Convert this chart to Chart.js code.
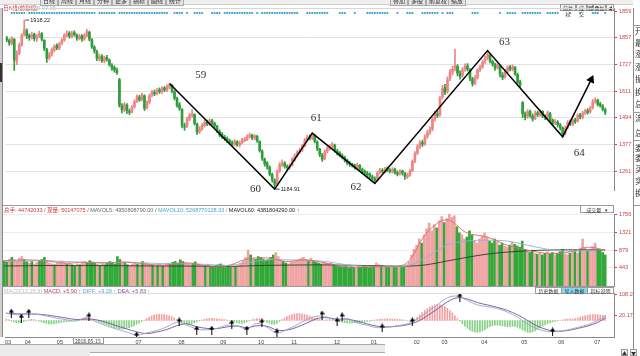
<!DOCTYPE html>
<html><head><meta charset="utf-8">
<script src="https://cdn.jsdelivr.net/npm/chart.js@4.4.1/dist/chart.umd.min.js"></script>
<style>
html,body{margin:0;padding:0;background:#fff;width:640px;height:356px;overflow:hidden;font-family:"Noto Sans CJK SC","Noto Sans",sans-serif;}
canvas{position:absolute;left:0;}
.a{position:absolute;white-space:nowrap;}
.t{position:absolute;white-space:nowrap;font-size:5.5px;line-height:6px;font-family:"Liberation Sans","Noto Sans CJK SC",sans-serif;}
.btn{position:absolute;border:1px solid #9a9a9a;background:#f2f2f2;font-size:5px;line-height:5px;text-align:center;color:#333;box-sizing:border-box;}
.tab{display:inline-block;border-right:1px solid #aaa;padding:0 2.5px;font-size:5.5px;line-height:7px;height:7px;color:#333;}
</style></head><body>
<canvas id="cp" width="640" height="197" style="top:2px"></canvas>
<canvas id="cv" width="640" height="87" style="top:205px"></canvas>
<canvas id="cm" width="640" height="59" style="top:286px"></canvas>
<div id="ov"></div>
<script>
// ---------------- DATA ----------------
const N = 240;
const opens = [1840,1830,1815,1835,1740,1775,1812,1855,1872,1852,1840,1856,1836,1848,1858,1830,1790,1755,1770,1788,1806,1796,1818,1832,1850,1862,1846,1864,1852,1838,1850,1835,1850,1865,1832,1800,1782,1750,1762,1740,1756,1745,1722,1712,1700,1660,1545,1528,1550,1522,1520,1542,1566,1584,1574,1590,1538,1562,1592,1606,1600,1616,1606,1624,1614,1628,1635,1608,1578,1550,1530,1460,1458,1488,1506,1508,1468,1435,1446,1460,1476,1466,1482,1470,1458,1436,1422,1410,1404,1396,1386,1378,1390,1376,1386,1396,1400,1414,1418,1406,1414,1392,1350,1315,1298,1280,1248,1222,1208,1265,1290,1298,1282,1280,1290,1312,1332,1346,1355,1374,1400,1412,1406,1415,1390,1358,1332,1318,1350,1360,1372,1375,1350,1342,1330,1322,1308,1296,1290,1286,1278,1288,1270,1262,1254,1250,1238,1230,1224,1256,1266,1260,1274,1266,1260,1272,1256,1252,1264,1252,1238,1246,1265,1306,1342,1370,1388,1382,1414,1432,1445,1490,1512,1508,1585,1625,1608,1665,1692,1708,1718,1686,1678,1704,1720,1702,1662,1645,1670,1702,1714,1738,1755,1765,1738,1726,1712,1718,1680,1672,1698,1714,1704,1712,1682,1650,1560,1510,1500,1522,1502,1492,1516,1506,1522,1500,1496,1512,1484,1472,1476,1464,1450,1428,1452,1476,1466,1484,1480,1506,1496,1516,1526,1520,1538,1566,1570,1554,1546,1530];
const closes = [1832,1818,1840,1745,1772,1810,1852,1878,1850,1842,1855,1838,1846,1860,1835,1795,1752,1768,1790,1805,1798,1815,1830,1852,1860,1848,1862,1855,1840,1848,1836,1852,1868,1835,1802,1785,1752,1760,1742,1755,1748,1725,1710,1702,1690,1548,1530,1552,1525,1518,1540,1565,1585,1572,1595,1535,1560,1590,1605,1598,1615,1608,1622,1615,1630,1638,1610,1580,1548,1535,1462,1455,1490,1505,1512,1470,1432,1445,1462,1475,1468,1480,1472,1460,1438,1420,1412,1405,1395,1388,1380,1392,1378,1385,1398,1402,1412,1420,1408,1416,1395,1352,1318,1295,1282,1250,1225,1205,1262,1292,1300,1285,1278,1288,1315,1330,1345,1352,1372,1398,1410,1405,1418,1392,1360,1335,1315,1348,1362,1370,1378,1352,1340,1332,1325,1310,1298,1292,1288,1280,1290,1272,1260,1255,1248,1240,1232,1222,1255,1268,1262,1272,1268,1262,1270,1258,1250,1262,1255,1240,1245,1262,1305,1340,1368,1385,1380,1412,1430,1442,1488,1510,1505,1580,1620,1605,1660,1690,1705,1720,1688,1675,1702,1718,1705,1665,1642,1668,1700,1712,1735,1752,1770,1740,1728,1710,1722,1682,1670,1695,1712,1705,1715,1685,1648,1635,1512,1498,1520,1505,1490,1515,1508,1520,1502,1495,1515,1485,1470,1478,1465,1452,1425,1450,1475,1468,1482,1478,1505,1498,1515,1525,1518,1535,1565,1572,1552,1548,1532,1518];
const highs = [1848,1836,1846,1838,1785,1818,1860,1918,1880,1858,1866,1862,1855,1870,1864,1834,1796,1778,1798,1812,1815,1822,1838,1860,1872,1868,1870,1872,1858,1856,1855,1860,1878,1870,1838,1808,1788,1770,1768,1762,1765,1750,1730,1720,1710,1665,1556,1560,1556,1532,1548,1572,1594,1592,1602,1594,1568,1598,1614,1615,1622,1624,1630,1630,1638,1643,1640,1612,1584,1560,1534,1472,1498,1514,1530,1512,1472,1456,1470,1484,1485,1490,1488,1476,1462,1442,1430,1418,1412,1402,1395,1400,1396,1394,1406,1410,1420,1428,1424,1422,1418,1395,1355,1320,1305,1286,1255,1230,1268,1300,1312,1305,1290,1296,1322,1338,1352,1362,1380,1405,1418,1420,1428,1420,1395,1362,1340,1355,1370,1378,1388,1380,1358,1348,1338,1328,1315,1305,1298,1294,1298,1292,1276,1268,1262,1256,1246,1238,1262,1275,1274,1280,1282,1274,1278,1276,1264,1270,1268,1258,1255,1272,1312,1348,1378,1395,1398,1420,1440,1455,1495,1522,1525,1588,1635,1640,1672,1705,1718,1792,1725,1698,1712,1728,1730,1708,1670,1678,1708,1722,1745,1762,1786,1772,1745,1732,1732,1722,1690,1705,1720,1722,1724,1718,1688,1658,1565,1520,1530,1528,1510,1525,1524,1530,1526,1508,1524,1518,1490,1488,1482,1470,1455,1458,1482,1484,1490,1492,1512,1514,1522,1532,1534,1544,1574,1582,1576,1562,1552,1536];
const lows = [1825,1808,1810,1700,1725,1768,1805,1848,1838,1830,1835,1828,1826,1842,1828,1785,1735,1745,1762,1780,1790,1790,1810,1826,1845,1840,1840,1848,1830,1832,1826,1830,1845,1828,1795,1775,1742,1740,1735,1732,1740,1718,1700,1692,1682,1540,1515,1520,1512,1508,1514,1536,1560,1565,1568,1525,1532,1555,1585,1590,1594,1600,1600,1608,1608,1620,1602,1572,1540,1526,1450,1440,1452,1482,1496,1462,1422,1426,1440,1455,1460,1460,1465,1452,1430,1412,1404,1396,1386,1378,1372,1372,1370,1368,1380,1390,1395,1406,1400,1398,1388,1345,1310,1285,1272,1242,1215,1185,1202,1258,1282,1276,1268,1272,1285,1306,1325,1338,1348,1368,1392,1398,1400,1385,1352,1326,1305,1312,1342,1354,1364,1345,1332,1325,1316,1302,1290,1284,1280,1272,1272,1265,1252,1248,1240,1232,1224,1210,1218,1250,1255,1254,1260,1255,1254,1250,1242,1246,1246,1227,1230,1240,1260,1300,1335,1362,1370,1375,1405,1422,1438,1480,1495,1500,1575,1595,1600,1655,1680,1698,1676,1662,1670,1695,1698,1655,1632,1638,1662,1695,1708,1730,1745,1732,1718,1700,1705,1672,1660,1665,1690,1698,1698,1678,1640,1625,1495,1485,1492,1496,1480,1486,1500,1500,1495,1486,1490,1478,1460,1465,1455,1442,1412,1420,1446,1460,1460,1470,1475,1490,1490,1508,1510,1514,1532,1558,1545,1540,1524,1508];
const volumes = [620,580,650,700,640,600,680,720,650,590,560,600,540,580,620,650,700,610,560,540,520,560,590,610,570,540,560,520,500,540,520,560,600,580,620,590,560,530,510,540,520,560,600,580,540,720,650,580,560,520,500,540,560,530,520,600,560,540,520,500,480,510,530,500,520,560,540,580,600,560,640,600,560,540,520,560,590,540,510,490,500,520,480,470,500,520,540,510,480,470,460,490,480,500,560,620,700,880,760,680,650,720,700,660,620,640,700,760,820,720,640,600,560,540,580,600,620,640,680,700,650,620,680,620,580,560,540,580,560,540,560,520,500,480,470,460,480,450,470,460,450,470,460,480,470,450,460,500,560,520,500,480,470,460,480,470,460,450,470,480,520,600,760,900,1000,1150,1050,1250,1400,1540,1350,1500,1420,1600,1700,1550,1650,1760,1680,1720,1450,1300,1250,1150,1200,1350,1250,1100,1050,1150,1220,1300,1200,1100,1050,1150,1080,1000,1050,980,950,1000,1080,1020,980,950,1100,900,860,820,880,800,780,820,760,800,840,780,820,760,800,840,900,780,760,800,820,860,800,880,1150,920,860,900,960,1050,900,880,820,760];
const maIdx = [0,8,16,24,32,40,48,56,64,72,80,88,96,104,112,120,128,136,144,152,160,168,176,184,192,200,208,216,224,232,239];
const mavol5 = [620,640,620,560,580,560,590,540,510,570,500,480,650,690,600,640,560,470,465,480,560,1300,1620,1300,1200,1000,880,800,820,950,880];
const mavol10 = [600,610,620,600,580,575,575,565,545,545,530,505,560,640,640,630,600,520,480,470,490,700,1000,1100,1120,1100,1000,900,850,870,890];
const mavol60 = [490,495,500,500,500,498,495,492,490,488,485,480,490,505,510,515,515,510,500,490,485,520,610,700,780,830,860,880,885,885,880];
const macdIdx = [0,4,8,12,16,20,24,28,32,36,40,44,48,52,56,60,64,68,72,76,80,84,88,92,96,100,104,108,112,116,120,124,128,132,136,140,144,148,152,156,160,164,168,172,176,180,184,188,192,196,200,204,208,212,216,220,224,228,232,236,239];
const dif = [31,24,28,26,19,10,3,-2,12,-6,-22,-36,-48,-61,-52,-42,-27,-8,-19,-36,-39,-33,-20,-22,-36,-12,-28,-52,-38,-18,4,18,14,0,8,-10,-20,-30,-28,-22,-14,5,36,66,95,102,84,65,58,50,35,14,-15,-36,-46,-46,-39,-29,-18,0,20];
const dea = [30,28,27,27,23,17,10,4,6,3,-8,-22,-35,-47,-55,-48,-38,-22,-14,-26,-33,-34,-27,-23,-30,-22,-24,-40,-40,-28,-10,8,12,5,6,-3,-14,-24,-27,-24,-18,-5,20,48,78,95,90,75,65,55,42,24,0,-24,-39,-45,-42,-33,-23,-8,10];
const macdBar = [6,3,-3,-6,-9,-10,-8,-5,-2,3,5,4,1,-3,-6,-9,-12,-14,-15,-14,-12,-10,-8,-6,-5,-4,-3,-2,-1,2,5,8,10,9,6,3,-2,-6,-10,-14,-18,-22,-26,-30,-33,-35,-36,-35,-33,-30,-26,-22,-16,-10,-4,2,8,14,19,23,25,26,26,25,23,20,16,10,4,-3,-8,-12,-15,-16,-14,-10,-6,-2,2,5,7,8,9,8,7,6,5,4,2,0,-3,-6,-9,-11,-12,-10,-6,-2,3,6,8,7,3,-3,-8,-12,-15,-16,-12,-4,4,10,16,21,25,28,29,29,28,26,23,19,15,10,6,4,3,2,3,4,3,1,-2,-4,-7,-9,-10,-11,-11,-10,-9,-8,-6,-5,-4,-3,-1,2,4,5,6,6,7,7,6,6,5,4,3,2,0,-3,-4,5,14,24,33,42,50,56,61,65,67,66,63,58,51,42,32,20,8,-4,-14,-24,-33,-40,-45,-48,-50,-48,-44,-38,-32,-26,-22,-20,-20,-21,-23,-25,-26,-25,-24,-25,-28,-33,-40,-45,-49,-50,-48,-44,-38,-31,-24,-18,-13,-9,-6,-4,-2,0,3,5,6,7,6,8,11,14,17,20,22,24,25,25,24,23,22,21];
const crossIdx = [2,6,9,33,52,69,76,82,90,96,102,108,126,132,134,150,162,181,218];
const crossVal = [31,10,31,15,-65,-6,-40,-40,-15,-40,-10,-52,23,-6,15,-31,-6,98,-48];
const zzIdx = [65,107,122,147,192,222,233.4];
const zzVal = [1643,1185,1428,1210,1786,1412,1660];
const waveText = ['59','60','61','62','63','64'];
const waveIdx = [77.5,99.3,123.6,139.5,198.8,228.6];
const waveVal = [1681,1186,1492,1194,1824,1341];
const hiIdx = 7, hiVal = 1918.22, loIdx = 107, loVal = 1184.91;
const eventRuns = [[2,7],[9,21],[22,28],[29,35],[37,37],[38,43],[45,64],[67,70],[72,72],[75,78],[82,85],[87,98],[100,100],[102,116],[120,128],[133,135],[139,139],[144,152],[156,156],[160,162],[166,172],[174,174],[176,178],[186,188],[197,197],[200,203],[206,213],[216,220],[225,225],[229,229],[234,236],[239,239]];
const monthIdx = [0.7,8.6,21.4,36.5,52.8,69.9,86.6,101.7,114.9,132,146.7,163.8,174.9,190.8,206.7,221.5,235.8];
const monthLabels = ['03','04','05','06','07','08','09','10','11','12','01','02','03','04','05','06','07'];
const priceTicks = [1261,1377.5,1494,1610.5,1727,1843.5,1953.7];
const priceTickLabels = ['1261','1377','1494','1611','1727','1857','1859'];
const volTicks = [443,879,1321,1756];
const volTickLabels = ['443','879','1321','1756'];
const macdTicks = [20.17,108.2];
const macdTickLabels = ['20.17','108.2'];

// ---------------- STYLE / CHARTS ----------------
Chart.defaults.animation = false;
Chart.defaults.font.family = '"Liberation Sans", Arial, sans-serif';
const UP = '#ec8686', DOWN = '#2f9d3c', VUP = '#f1a3a3', VDOWN = '#33a83a', RED = '#d04040';
const idx = Array.from({length: N}, (_, i) => i);
const isUp = i => closes[i] >= opens[i];
const XMIN = -0.5, XMAX = 242.5;
const xHidden = {type: 'linear', min: XMIN, max: XMAX, display: false, offset: false};
function rightAxis(ticksArr, labelsArr, min, max, gridColor) {
  return {
    position: 'right', min, max,
    afterBuildTicks: s => { s.ticks = ticksArr.map(v => ({value: v})); },
    afterFit: s => { s.width = 26; },
    ticks: {font: {size: 5.5}, color: RED, padding: 2, autoSkip: false,
      callback: (v, i) => labelsArr[i]},
    grid: {color: gridColor, tickColor: RED, tickLength: 3, lineWidth: 1},
    border: {display: true, color: '#8a8a8a'}
  };
}
const basePlugins = {legend: {display: false}, tooltip: {enabled: false}};

const priceAnno = {
  id: 'priceAnno',
  afterDatasetsDraw(chart) {
    const {ctx, scales: {x, y}} = chart;
    ctx.save();
    ctx.fillStyle = '#2f9ccc';
    eventRuns.forEach(([a, b]) => { for (let i = a; i <= b; i++) {
      ctx.beginPath(); ctx.arc(x.getPixelForValue(i), 11, 1.1, 0, Math.PI * 2); ctx.fill(); } });
    ctx.font = '11px "Liberation Serif", serif';
    ctx.fillStyle = '#333'; ctx.textAlign = 'center'; ctx.textBaseline = 'middle';
    waveText.forEach((t, k) => ctx.fillText(t, x.getPixelForValue(waveIdx[k]), y.getPixelForValue(waveVal[k])));
    ctx.font = '5.5px "Liberation Sans", sans-serif'; ctx.textAlign = 'left'; ctx.fillStyle = '#222';
    ctx.strokeStyle = '#222'; ctx.lineWidth = 0.8;
    [[hiIdx, hiVal], [loIdx, loVal]].forEach(([i, v]) => {
      const px = x.getPixelForValue(i), py = y.getPixelForValue(v);
      ctx.beginPath(); ctx.moveTo(px + 1, py); ctx.lineTo(px + 5, py); ctx.stroke();
      ctx.fillText(v.toFixed(2), px + 6, py);
    });
    ctx.restore();
  }
};

new Chart(document.getElementById('cp'), {
  type: 'bar',
  data: {datasets: [
    {type: 'line', data: zzIdx.map((v, k) => ({x: v, y: zzVal[k]})), borderColor: '#000', borderWidth: 1.5,
     pointRadius: c => c.dataIndex === zzIdx.length - 1 ? 3.5 : 0, pointStyle: 'triangle', pointRotation: 25,
     pointBackgroundColor: '#000', pointBorderColor: '#000', clip: false},
    {data: idx.map(i => ({x: i, y: [opens[i], closes[i]]})), backgroundColor: c => isUp(c.dataIndex) ? UP : DOWN,
     barThickness: 2, grouped: false, minBarLength: 1},
    {data: idx.map(i => ({x: i, y: [lows[i], highs[i]]})), backgroundColor: c => isUp(c.dataIndex) ? UP : DOWN,
     barThickness: 1, grouped: false}
  ]},
  options: {responsive: false, devicePixelRatio: 1,
    layout: {padding: {left: 3, right: 0, top: 6, bottom: 9}},
    plugins: basePlugins,
    scales: {x: xHidden, y: rightAxis(priceTicks, priceTickLabels, 1181.3, 1970.5,
      c => c.tick && c.tick.value > 1900 ? 'rgba(0,0,0,0)' : '#e3e3e3')}},
  plugins: [priceAnno]
});

new Chart(document.getElementById('cv'), {
  type: 'bar',
  data: {datasets: [
    {type: 'line', data: maIdx.map((v, k) => ({x: v, y: mavol5[k]})), borderColor: '#e06a6a', borderWidth: 0.9, pointRadius: 0, tension: 0.35},
    {type: 'line', data: maIdx.map((v, k) => ({x: v, y: mavol10[k]})), borderColor: '#8fb3cf', borderWidth: 0.9, pointRadius: 0, tension: 0.35},
    {type: 'line', data: maIdx.map((v, k) => ({x: v, y: mavol60[k]})), borderColor: '#2f3a2f', borderWidth: 0.9, pointRadius: 0, tension: 0.35},
    {data: idx.map(i => ({x: i, y: volumes[i]})), backgroundColor: c => isUp(c.dataIndex) ? VUP : VDOWN,
     barThickness: 2, grouped: false}
  ]},
  options: {responsive: false, devicePixelRatio: 1,
    layout: {padding: {left: 3, right: 0, top: 9, bottom: 6}},
    plugins: basePlugins,
    scales: {x: xHidden, y: rightAxis(volTicks, volTickLabels, 0, 1762, '#ececec')}}
});

function arrowImg() {
  const c = document.createElement('canvas'); c.width = 5; c.height = 9;
  const g = c.getContext('2d'); g.fillStyle = '#000';
  g.fillRect(2, 3, 1, 6);
  g.beginPath(); g.moveTo(2.5, 0); g.lineTo(5, 4); g.lineTo(0, 4); g.closePath(); g.fill();
  return c;
}
const arrow = arrowImg();

new Chart(document.getElementById('cm'), {
  type: 'bar',
  data: {datasets: [
    {type: 'scatter', data: crossIdx.map((v, k) => ({x: v, y: crossVal[k]})), pointStyle: arrow, pointRadius: 3},
    {type: 'line', data: macdIdx.map((v, k) => ({x: v, y: dif[k]})), borderColor: '#8fa9c9', borderWidth: 0.9, pointRadius: 0, tension: 0.35},
    {type: 'line', data: macdIdx.map((v, k) => ({x: v, y: dea[k]})), borderColor: '#7b4f96', borderWidth: 0.9, pointRadius: 0, tension: 0.35},
    {data: idx.map(i => ({x: i, y: macdBar[i]})), backgroundColor: c => macdBar[c.dataIndex] >= 0 ? '#f2a0a0' : '#86d086',
     barThickness: 1, grouped: false}
  ]},
  options: {responsive: false, devicePixelRatio: 1,
    layout: {padding: {left: 3, right: 0, top: 7, bottom: 0}},
    plugins: basePlugins,
    scales: {
      x: {type: 'linear', min: XMIN, max: XMAX, offset: false,
        afterBuildTicks: s => { s.ticks = monthIdx.map(v => ({value: v})); },
        afterFit: s => { s.height = 8; },
        ticks: {font: {size: 5.5}, color: '#444', padding: 1, autoSkip: false, maxRotation: 0,
          callback: (v, i) => monthLabels[i]},
        grid: {drawOnChartArea: false, tickLength: 1, color: '#999'},
        border: {display: true, color: '#8a8a8a'}},
      y: rightAxis(macdTicks, macdTickLabels, -69, 115, 'rgba(0,0,0,0)')
    }}
});

// ---------------- HTML chrome ----------------
const ov = document.getElementById('ov');
function add(html) { ov.insertAdjacentHTML('beforeend', html); }
add('<div class="a" style="left:0;top:0;width:633px;height:4px;background:#efefef;border-bottom:1px solid #cfcfcf"></div>');
['日线','周线','月线','分钟','更多','指标','画线','统计','叠加','多股','前复权','缩放'].forEach((t, k) => {
  const lefts = [40,58,76,94,112,130,148,166,390,408,426,448];
  add('<div class="a" style="left:' + lefts[k] + 'px;top:-4px;height:8px;padding:0 2px;border:1px solid #aaa;background:#e4e4e4;font-size:6px;line-height:8px;color:#333">' + t + '</div>');
});
add('<div class="t" style="left:3px;top:5px;color:#c33">日K线(前复权)</div>');
add('<div class="t" style="left:28px;top:5px;color:#b9b9b9">2019-07-05</div>');
[['前复权',560,16],['成交',576,11],['置',587,6],['叠加',593,13],['◀',606,8]].forEach(([t, l, w]) => {
  add('<div class="btn" style="left:' + l + 'px;top:4px;width:' + w + 'px;height:7px;line-height:6px">' + t + '</div>');
});
add('<div class="a" style="left:3px;top:8px;width:611px;height:1px;background:#d6d6d6"></div>');
add('<div class="a" style="left:3px;top:205px;width:611px;height:1px;background:#9a9a9a"></div>');
add('<div class="a" style="left:3px;top:286px;width:611px;height:1px;background:#9a9a9a"></div>');
add('<div class="a" style="left:3px;top:293px;width:611px;height:1px;background:#dcdcdc"></div>');
add('<div class="a" style="left:2px;top:8px;width:1px;height:329px;background:#8a8a8a"></div>');
add('<div class="a" style="left:0;top:8px;width:2px;height:329px;background:#cfcfcf"></div>');
add('<div class="a" style="left:0;top:63px;width:2px;height:19px;background:#333"></div>');
add('<div class="t" style="left:4px;top:207px"><span style="color:#d03a3a">总手: 44742033 / 现量: 50147075 / </span><span style="color:#666">MAVOL5: 4950808790.00 / </span><span style="color:#4aa3d0">MAVOL10: 5268770128.33 / </span><span style="color:#222">MAVOL60: 4381804290.00 ↑</span></div>');
add('<div class="btn" style="left:580px;top:205px;width:34px;height:8px;line-height:7px;background:#fff">成交量 &nbsp;&nbsp;▾</div>');
add('<div class="t" style="left:4px;top:288px"><span style="color:#bbb">MACD(12,26,9) </span><span style="color:#c0397a">MACD: +5.90 ↑ </span><span style="color:#5aa7d4">DIFF: +9.29 ↑ </span><span style="color:#8a4fa8">DEA: +5.83 ↑</span></div>');
add('<div class="btn" style="left:535px;top:287px;width:27px;height:7px;line-height:6px;background:#fff">历史数据</div>');
add('<div class="btn" style="left:561px;top:287px;width:27px;height:7px;line-height:6px;background:#7fdaf2">导入数据</div>');
add('<div class="btn" style="left:587px;top:287px;width:27px;height:7px;line-height:6px;background:#fff">指标说明</div>');
add('<div class="btn" style="left:73px;top:337px;width:31px;height:7px;line-height:6px;background:#fff;text-align:left;padding-left:1px">2018-05-15 ▫</div>');
const tabs = ['主图','指标设置','MACD','KDJ','RSI','BOLL','主力','W&amp;R','DMI','BIAS','ASI','VR','ARBR','DPO','TRIX','BBIBOLL','BBI','MTM','OBV','SAR','EXPMA'];
add('<div class="a" style="left:0;top:344px;height:7px;border-top:1px solid #aaa;border-bottom:1px solid #aaa;background:#ececec">' +
  tabs.map((t, k) => '<span class="tab" style="' + (k === 2 ? 'background:#111;color:#fff;' : k === 0 ? 'color:#c33;' : '') + '">' + t + '</span>').join('') + '</div>');
add('<div class="a" style="left:0;top:351px;height:6px;background:#ececec">' +
  ['财务数据','机构持仓','研究报告'].map(t => '<span class="tab" style="line-height:6px;height:6px;border:1px solid #aaa;margin-right:1px">' + t + '</span>').join('') + '</div>');
add('<div class="a" style="left:633px;top:8px;width:1px;height:348px;background:#8a8a8a"></div>');
['开','最','涨','涨','振','换','总','流','总','委','委','买','实','换'].forEach((t, k) => {
  const tops = [26,38,49,62,74,87,99,113,128,143,153,164,176,188];
  add('<div class="a" style="left:635px;top:' + tops[k] + 'px;font-size:8px;line-height:9px;color:#333">' + t + '</div>');
});
[25,112,140,205].forEach(t => add('<div class="a" style="left:633px;top:' + t + 'px;width:7px;height:1px;background:#999"></div>'));
add('<div class="btn" style="left:621px;top:349px;width:7px;height:7px">▲</div>');
add('<div class="btn" style="left:630px;top:349px;width:7px;height:7px">▼</div>');
</script>
</body></html>
